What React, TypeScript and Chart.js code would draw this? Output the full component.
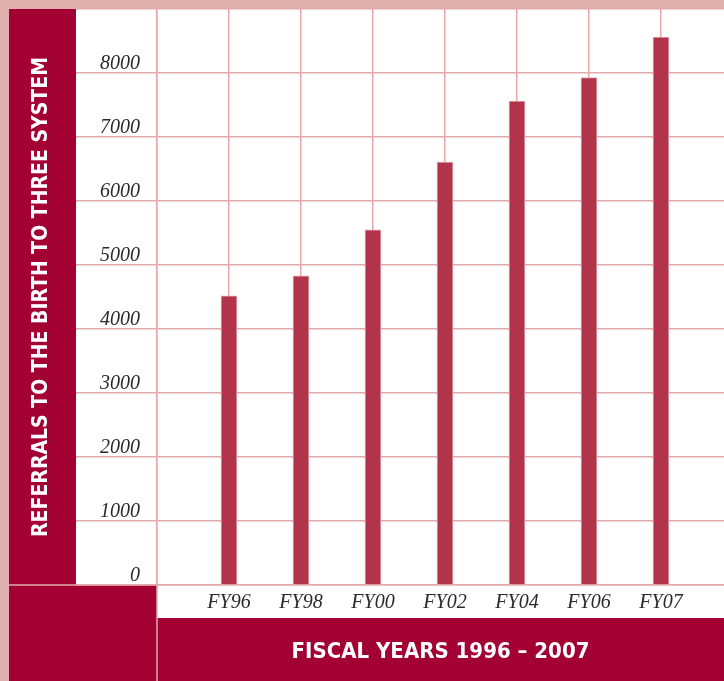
import React, { useEffect, useRef } from 'react';
import { Chart, registerables } from 'chart.js';

Chart.register(...registerables);

const categories = ['FY96', 'FY98', 'FY00', 'FY02', 'FY04', 'FY06', 'FY07'];
const referrals = [4520, 4830, 5550, 6610, 7560, 7930, 8560];
const yAxisTitle = 'REFERRALS TO THE BIRTH TO THREE SYSTEM';
const xAxisTitle = 'FISCAL YEARS 1996 \u2013 2007';

const PINK = '#e0b0ae';
const MAROON = '#a30034';
const BAR = '#b13448';
const GRID = '#e2aaab';
const FRAME = 9;
const Y_TICK_LEN = 81;
const LABEL_STRIP = 33;

const tickFont = { family: "'Liberation Serif', 'Times New Roman', serif", style: 'italic' as const, size: 20 };
const titleFamily = "'DejaVu Sans Condensed', 'Liberation Sans', sans-serif";

const panelPlugin = {
  id: 'panels',
  beforeDraw(chart: any) {
    const { ctx, chartArea: a, width, height } = chart;
    const plotLeft = a.left - Y_TICK_LEN;
    ctx.save();
    ctx.fillStyle = PINK;
    ctx.fillRect(0, 0, width, height);
    ctx.fillStyle = '#ffffff';
    ctx.fillRect(plotLeft, FRAME, width - plotLeft, a.bottom - FRAME);
    ctx.fillRect(a.left, a.bottom, width - a.left, LABEL_STRIP);
    ctx.fillStyle = MAROON;
    ctx.fillRect(FRAME, FRAME, plotLeft - FRAME, a.bottom - FRAME);
    ctx.fillRect(FRAME, a.bottom, a.left - FRAME, height - a.bottom);
    ctx.fillRect(a.left, a.bottom + LABEL_STRIP, width - a.left, height - a.bottom - LABEL_STRIP);
    ctx.restore();
  },
  afterDraw(chart: any) {
    const { ctx, chartArea: a, height } = chart;
    ctx.save();
    ctx.strokeStyle = GRID;
    ctx.lineWidth = 1.5;
    ctx.beginPath();
    ctx.moveTo(FRAME, a.bottom);
    ctx.lineTo(a.left, a.bottom);
    ctx.moveTo(a.left, a.bottom);
    ctx.lineTo(a.left, height);
    ctx.stroke();
    ctx.restore();
  },
};

export default function App() {
  const ref = useRef<HTMLCanvasElement | null>(null);

  useEffect(() => {
    document.body.style.margin = '0';
    const canvas = ref.current;
    if (!canvas) return;
    const chart = new Chart(canvas, {
      type: 'bar',
      data: {
        datasets: [
          {
            data: categories.map((c, i) => ({ x: i, y: referrals[i] })),
            backgroundColor: BAR,
            borderColor: '#e3a9b3',
            borderWidth: 1,
            barThickness: 16,
          },
        ],
      },
      options: {
        animation: false,
        responsive: false,
        devicePixelRatio: 1,
        layout: { padding: { top: FRAME, left: 0, right: 0, bottom: 0 } },
        plugins: { legend: { display: false }, tooltip: { enabled: false } },
        scales: {
          x: {
            type: 'linear',
            offset: false,
            min: -1,
            max: 6.875,
            afterBuildTicks: (s: any) => {
              s.ticks = [-1, ...categories.map((_, i) => i)].map((v) => ({ value: v }));
            },
            afterFit: (s: any) => {
              s.height = 96;
            },
            ticks: {
              autoSkip: false,
              maxRotation: 0,
              padding: 6,
              color: '#2a2a2a',
              font: tickFont,
              callback: (v: any) => categories[v as number] ?? '',
            },
            grid: { color: GRID, lineWidth: 1.5, drawTicks: false, offset: false },
            border: { color: GRID, width: 1.5 },
            title: {
              display: true,
              text: xAxisTitle,
              color: '#ffffff',
              font: { family: titleFamily, weight: 'bold' as const, size: 22 },
              padding: { top: 0, bottom: 16 },
            },
          },
          y: {
            min: 0,
            max: 9000,
            afterFit: (s: any) => {
              s.width = 157;
            },
            ticks: {
              stepSize: 1000,
              padding: -64,
              labelOffset: -9,
              color: '#2a2a2a',
              font: tickFont,
              callback: (v: any) => (v >= 9000 ? '' : String(v)),
            },
            grid: { color: GRID, lineWidth: 1.5, drawTicks: true, tickLength: Y_TICK_LEN, tickColor: GRID },
            border: { color: GRID, width: 1.5 },
            title: {
              display: true,
              text: yAxisTitle,
              color: '#ffffff',
              font: { family: titleFamily, weight: 'bold' as const, size: 21 },
              padding: { top: 29, bottom: 0 },
            },
          },
        },
      },
      plugins: [panelPlugin],
    });
    return () => chart.destroy();
  }, []);

  return (
    <canvas
      ref={ref}
      width={724}
      height={681}
      style={{ position: 'fixed', left: 0, top: 0, display: 'block', width: 724, height: 681 }}
    />
  );
}
